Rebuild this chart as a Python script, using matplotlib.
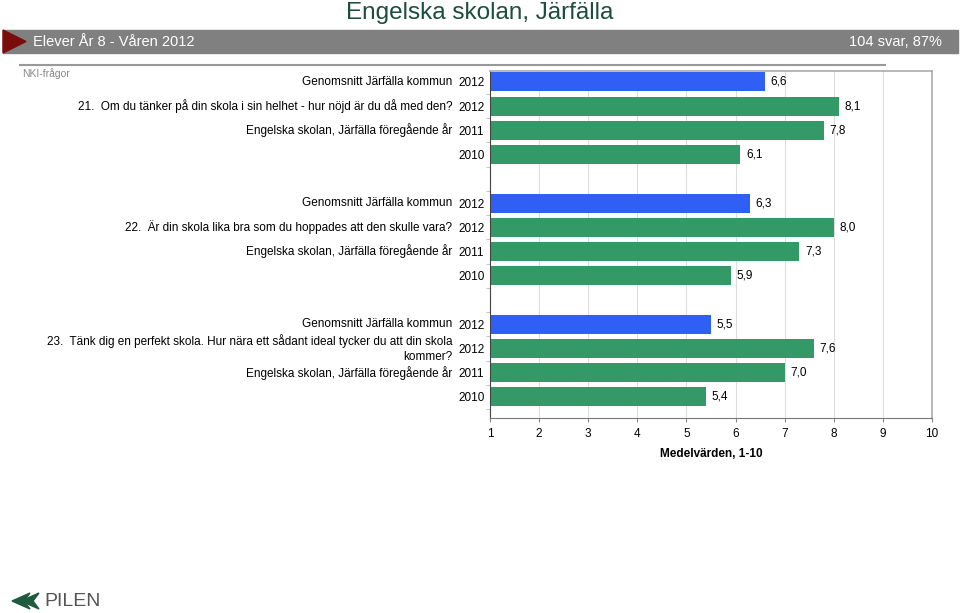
import numpy as np
import matplotlib.pyplot as plt
from matplotlib.patches import Rectangle, Polygon

plt.rcParams['font.family'] = ['Liberation Sans', 'DejaVu Sans']

# data
questions = [
    "21.  Om du tänker på din skola i sin helhet - hur nöjd är du då med den?",
    "22.  Är din skola lika bra som du hoppades att den skulle vara?",
    "23.  Tänk dig en perfekt skola. Hur nära ett sådant ideal tycker du att din skola\nkommer?",
]
row_labels = ["Genomsnitt Järfälla kommun", None, "Engelska skolan, Järfälla föregående år", ""]
row_years = ["2012", "2012", "2011", "2010"]
q21 = [6.6, 8.1, 7.8, 6.1]
q22 = [6.3, 8.0, 7.3, 5.9]
q23 = [5.5, 7.6, 7.0, 5.4]
values = [q21, q22, q23]
xticks = list(range(1, 11))

blue = "#2f5ff4"
green = "#339966"

fig = plt.figure(figsize=(9.6, 6.13), dpi=100)
ax = fig.add_axes([0.5104, 0.3181, 0.4604, 0.5661])

pos, yl = [], []
for g, vals in enumerate(values):
    for i, v in enumerate(vals):
        y = g * 5 + i
        pos.append(y)
        yl.append(row_years[i])
        ax.barh(y, v - 1, left=1, height=0.78, color=blue if i == 0 else green, zorder=2)
        ax.annotate(f"{v:.1f}".replace(".", ","), (v, y), xytext=(4, 0),
                    textcoords="offset points", va="center", fontsize=8.5)
        lab = row_labels[i] if i != 1 else questions[g]
        if lab:
            ax.annotate(lab, xy=(0, y), xycoords=("axes fraction", "data"),
                        xytext=(-27, 0), textcoords="offset points",
                        ha="right", va="center", fontsize=8.5, linespacing=1.3)

ax.set_xlim(1, 10)
ax.set_ylim(13.87, -0.45)
ax.set_xticks(xticks)
ax.set_xticklabels([str(t) for t in xticks], fontsize=8.5)
ax.set_yticks(pos)
ax.set_yticklabels(yl, fontsize=8.5)
ax.tick_params(axis="y", length=0, pad=4)
ax.tick_params(axis="x", length=3, color="#888888", pad=4)
ax.set_yticks(np.arange(0.5, 13.6, 1), minor=True)
ax.tick_params(axis="y", which="minor", length=3, color="#bbbbbb")
ax.grid(axis="x", color="#dddddd", linewidth=0.8, zorder=0)
ax.set_xlabel("Medelvärden, 1-10", fontsize=8.5, fontweight="bold", labelpad=6)
for s in ["top", "right"]:
    ax.spines[s].set_color("#aaaaaa")
    ax.spines[s].set_linewidth(1.2)
ax.spines["left"].set_color("#444444")
ax.spines["bottom"].set_color("#777777")

# header
fig.text(0.5, 0.978, "Engelska skolan, Järfälla", ha="center", va="center",
         fontsize=17.5, color="#1d4d3c")
fig.patches.append(Rectangle((0.003, 1 - 53 / 613), 0.995, 23 / 613,
                             transform=fig.transFigure, color="#808080"))
fig.patches.append(Polygon([(3 / 960, 1 - 30 / 613), (26 / 960, 1 - 41.5 / 613), (3 / 960, 1 - 53 / 613)],
                           closed=True, transform=fig.transFigure, color="#7a0c0c"))
fig.text(33 / 960, 1 - 41.5 / 613, "Elever År 8 - Våren 2012", ha="left", va="center",
         fontsize=10.5, color="white")
fig.text(942 / 960, 1 - 41.5 / 613, "104 svar, 87%", ha="right", va="center",
         fontsize=10.5, color="white")
fig.add_artist(plt.Line2D([20 / 960, 885 / 960], [1 - 65 / 613] * 2, color="#999999", linewidth=1.5))
fig.text(22 / 960, 1 - 74 / 613, "NKI-frågor", ha="left", va="center", fontsize=7.5, color="#888888")

# logo
for dx in [0, 9]:
    fig.patches.append(Polygon([((12 + dx) / 960, 1 - 601 / 613), ((30 + dx) / 960, 1 - 593 / 613),
                                ((24 + dx) / 960, 1 - 601 / 613), ((30 + dx) / 960, 1 - 609 / 613)],
                               closed=True, transform=fig.transFigure, color="#1f5a3e"))
fig.text(44 / 960, 1 - 601 / 613, "PILEN", ha="left", va="center", fontsize=14,
         color="#555555", fontweight="light")

fig.savefig("out.png", dpi=100)
